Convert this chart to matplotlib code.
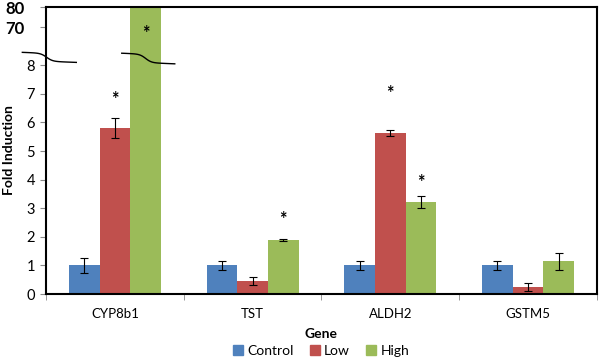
import numpy as np
import matplotlib.pyplot as plt
from matplotlib.lines import Line2D
from matplotlib.patches import Patch

plt.rcParams['font.family'] = ['Lato', 'DejaVu Sans']

genes = ["CYP8b1", "TST", "ALDH2", "GSTM5"]
groups = ["Control", "Low", "High"]
control = [1.0, 1.0, 1.0, 1.0]
low = [5.8, 0.45, 5.62, 0.25]
high = [80.0, 1.9, 3.22, 1.15]
control_err = [0.27, 0.15, 0.17, 0.15]
low_err = [0.35, 0.15, 0.10, 0.15]
high_err = [0.0, 0.04, 0.2, 0.3]
colors = ["#4F81BD", "#C0504D", "#9BBB59"]

# significance stars: (gene index, group index, y value)
stars = [(0, 1, 6.8), (0, 2, 60.0), (1, 2, 2.6), (2, 1, 7.0), (2, 2, 3.9)]

# broken axis: 0-8 linear, squeeze 8-70, then 70-80 compressed
y_in = [0, 8, 70, 80]
y_out = [0, 8, 9.333, 10.035]


def fwd(y):
    return np.interp(y, y_in, y_out)


def inv(u):
    return np.interp(u, y_out, y_in)


fig = plt.figure(figsize=(6, 3.59), dpi=100)
ax = fig.add_axes([0.0767, 0.181, 0.918, 0.7995])
ax.set_yscale('function', functions=(fwd, inv))

x = np.arange(len(genes))
w = 0.223
series = [(control, control_err), (low, low_err), (high, high_err)]
for i, (vals, errs) in enumerate(series):
    pos = x + (i - 1) * w
    ax.bar(pos, vals, width=w, color=colors[i], label=groups[i], zorder=2)
    e = np.array(errs)
    m = e > 0
    ax.errorbar(pos[m], np.array(vals)[m], yerr=e[m], fmt='none', ecolor='black',
                elinewidth=0.8, capsize=3, capthick=0.8, zorder=3)

for gi, si, yv in stars:
    ax.text(x[gi] + (si - 1) * w, yv, "*", ha='center', va='center', fontsize=13,
            fontweight='bold', zorder=4)

ax.set_xlim(-0.5, len(genes) - 0.5)
ax.set_ylim(0, 80)
ax.set_yticks([0, 1, 2, 3, 4, 5, 6, 7, 8, 70, 80])
ax.set_yticklabels([str(v) for v in [0, 1, 2, 3, 4, 5, 6, 7, 8, 70, 80]], fontsize=10.5)
for lab in ax.get_yticklabels()[-2:]:
    lab.set_fontweight('bold')
    lab.set_fontsize(12)
    lab.set_x(-0.018)
ax.yaxis.set_minor_locator(plt.NullLocator())

ax.set_xticks(x)
ax.set_xticklabels(genes, fontsize=9.5)
ax.set_xticks(np.arange(len(genes) + 1) - 0.5, minor=True)
ax.tick_params(axis='x', which='major', length=0, pad=10)
ax.tick_params(axis='x', which='minor', length=4, color='#888888', direction='out')
ax.tick_params(axis='y', length=4, color='#888888', direction='out', pad=4)

for s in ax.spines.values():
    s.set_color('black')
    s.set_linewidth(1.5)

ax.set_ylabel("Fold Induction", fontsize=10, fontweight='bold')
ax.yaxis.set_label_coords(-0.056, 0.5)
ax.set_xlabel("Gene", fontsize=10, fontweight='bold', labelpad=6)

# break marks (smooth S-shaped curves)
bx = np.linspace(0, 1, 40)
by = -(0.5 + 0.5 * np.tanh((bx - 0.45) * 9)) * 0.8 - 0.2 * bx
ax.add_line(Line2D(-0.043 + bx * 0.098, 0.842 + by * 0.035, transform=ax.transAxes,
                   color='black', lw=1.0, clip_on=False, zorder=5))
ax.add_line(Line2D(x[0] + 0.05 + bx * 0.385, 0.839 + by * 0.037,
                   transform=ax.get_xaxis_transform(),
                   color='black', lw=1.0, clip_on=False, zorder=5))

handles = [Patch(color=c, label=g) for c, g in zip(colors, groups)]
fig.legend(handles=handles, loc='center', bbox_to_anchor=(0.535, 0.022), ncol=3,
           frameon=False, fontsize=10, handlelength=0.7, handleheight=0.7,
           handletextpad=0.3, columnspacing=1.2)

fig.savefig("out.png", dpi=100)
